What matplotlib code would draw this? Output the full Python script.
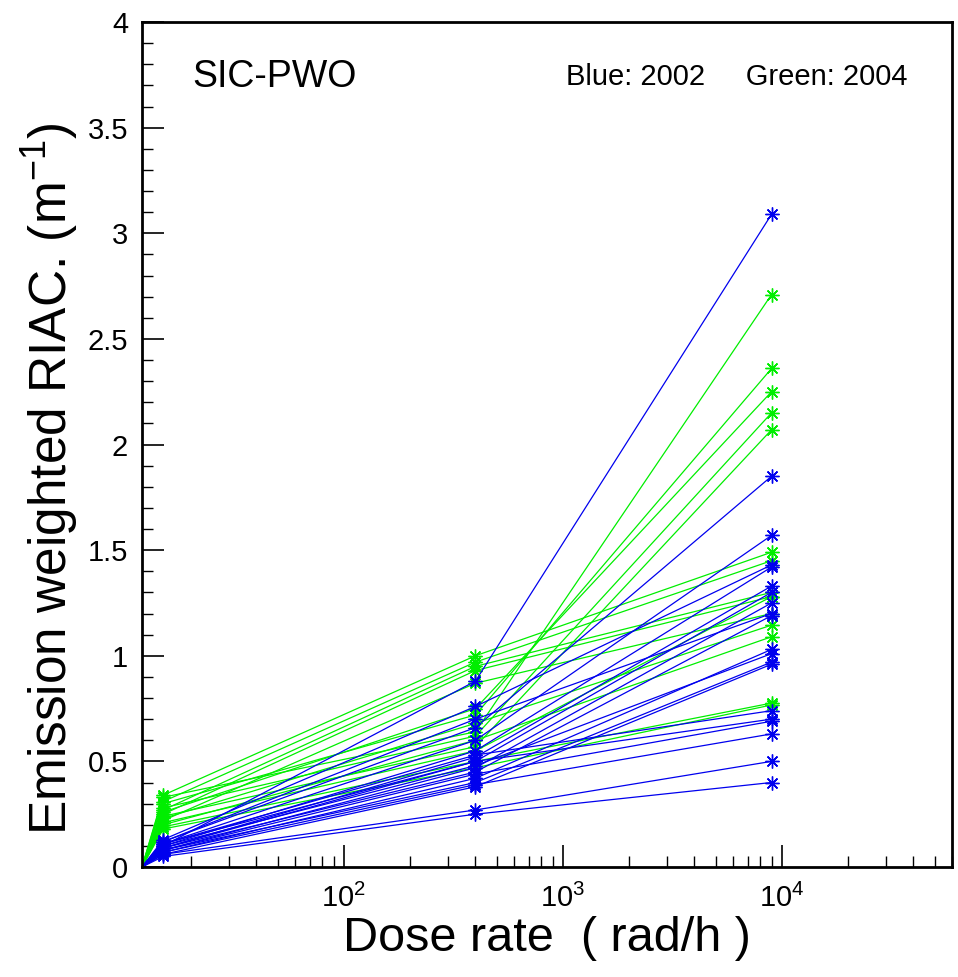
import matplotlib.pyplot as plt
from matplotlib.ticker import FixedLocator, LogLocator, MultipleLocator, NullFormatter, FuncFormatter

plt.rcParams['font.family'] = ['Liberation Sans', 'DejaVu Sans']
plt.rcParams['mathtext.fontset'] = 'custom'
plt.rcParams['mathtext.rm'] = 'Liberation Sans'
plt.rcParams['mathtext.it'] = 'Liberation Sans'

# dose rates (rad/h); first point is the start at the axis origin
dose = [12, 15, 400, 9000]

# 2002 crystals (blue): RIAC at 15, 400, 9000 rad/h
blue_15 = [0.10, 0.12, 0.11, 0.13, 0.10, 0.09, 0.11, 0.08, 0.12, 0.09,
           0.07, 0.10, 0.08, 0.06, 0.11, 0.09, 0.08, 0.07, 0.06, 0.05]
blue_400 = [0.88, 0.66, 0.60, 0.76, 0.55, 0.52, 0.50, 0.47, 0.70, 0.45,
            0.42, 0.48, 0.40, 0.38, 0.53, 0.50, 0.44, 0.39, 0.27, 0.25]
blue_9000 = [3.09, 1.85, 1.57, 1.43, 1.42, 1.33, 1.30, 1.25, 1.20, 1.19,
             1.03, 1.01, 0.97, 0.96, 0.74, 0.70, 0.69, 0.63, 0.50, 0.40]

# 2004 crystals (green)
green_15 = [0.33, 0.30, 0.26, 0.28, 0.24, 0.34, 0.31, 0.27, 0.25, 0.22,
            0.23, 0.20, 0.21, 0.19, 0.18]
green_400 = [0.64, 0.72, 0.75, 0.62, 0.57, 1.00, 0.97, 0.95, 0.93, 0.87,
             0.68, 0.60, 0.55, 0.50, 0.47]
green_9000 = [2.71, 2.36, 2.25, 2.15, 2.07, 1.49, 1.45, 1.30, 1.28, 1.20,
              1.145, 1.09, 1.28, 0.776, 0.767]

fig = plt.figure(figsize=(9.58, 9.77), dpi=100)
ax = fig.add_axes([142 / 958, 110 / 977, 810 / 958, 845 / 977])

star = (8, 2, 0)


def draw_set(v1, v2, v3, color):
    for a, b, c in zip(v1, v2, v3):
        ax.plot(dose, [0, a, b, c], color=color, lw=0.9, marker=star,
                markersize=10, markeredgewidth=1.0, markevery=[1, 2, 3])


draw_set(green_15, green_400, green_9000, '#00ee00')
draw_set(blue_15, blue_400, blue_9000, '#0000ee')

ax.set_xscale('log')
ax.set_xlim(12, 6e4)
ax.set_ylim(0, 4)

ax.xaxis.set_major_locator(FixedLocator([1e2, 1e3, 1e4]))
ax.xaxis.set_major_formatter(FuncFormatter(lambda v, p: r'$10^{%d}$' % round(__import__('math').log10(v))))
ax.xaxis.set_minor_locator(LogLocator(base=10, subs=range(2, 10)))
ax.xaxis.set_minor_formatter(NullFormatter())
ax.yaxis.set_major_locator(MultipleLocator(0.5))
ax.yaxis.set_minor_locator(MultipleLocator(0.1))
ax.yaxis.set_major_formatter(FuncFormatter(lambda v, p: '%g' % v))

ax.tick_params(which='major', direction='in', length=16, width=1.2,
               labelsize=21, pad=10, top=False, right=False)
ax.tick_params(axis='x', which='major', pad=12)
ax.tick_params(which='minor', direction='in', length=8, width=1.0,
               top=False, right=False)
for s in ax.spines.values():
    s.set_linewidth(2)

ax.set_xlabel('Dose rate  ( rad/h )', fontsize=35, labelpad=2)
ax.set_ylabel(r'Emission weighted RIAC. (m$^{-1}$)', fontsize=37, labelpad=5)
ax.yaxis.label.set_y(0.46)

ax.text(0.062, 0.935, 'SIC-PWO', transform=ax.transAxes, fontsize=27,
        va='center', ha='left')
ax.text(0.523, 0.935, 'Blue: 2002     Green: 2004', transform=ax.transAxes,
        fontsize=21, va='center', ha='left')

fig.savefig('out.png', dpi=100)
